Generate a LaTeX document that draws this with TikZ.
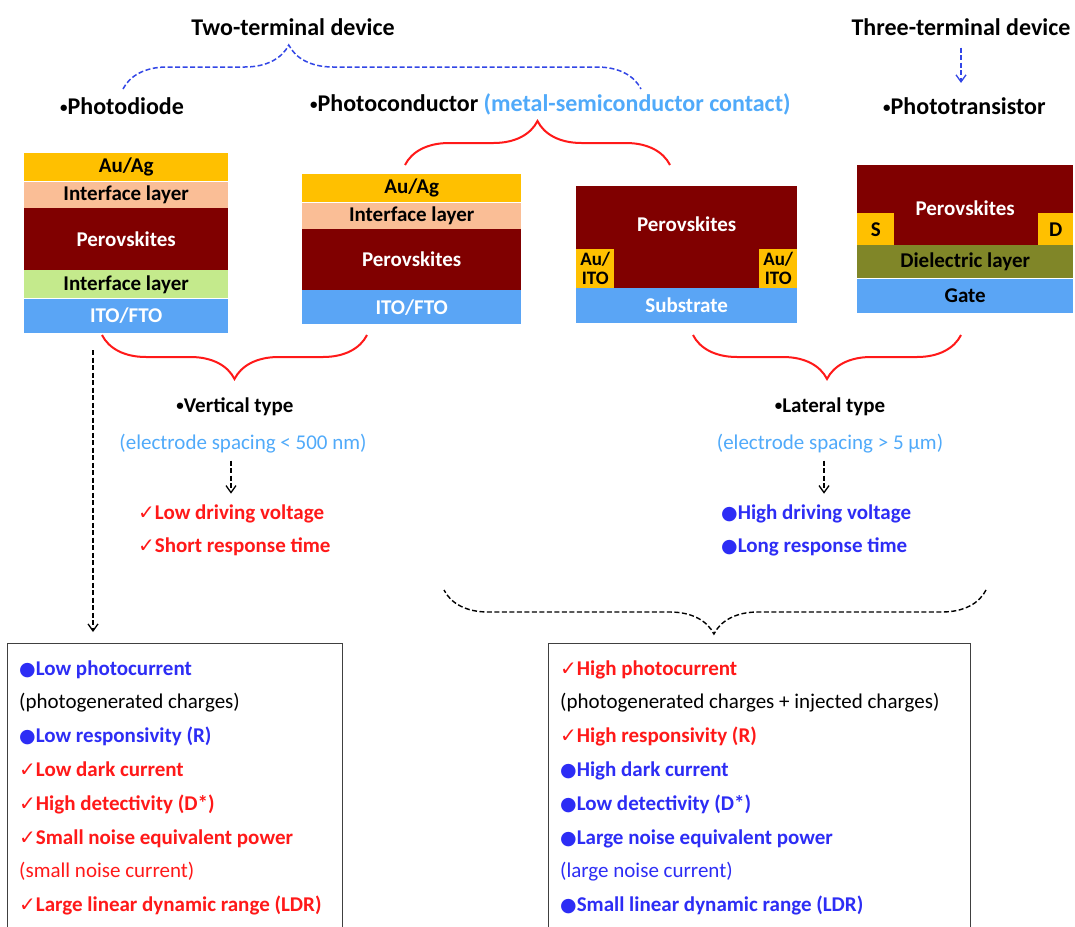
\documentclass[tikz,border=0pt]{standalone}
\usepackage{fontspec}
\usepackage{xcolor}
\usepackage{tikz}
\usetikzlibrary{positioning, arrows.meta, decorations.pathreplacing}
\setmainfont{Carlito}
\newfontfamily\symfont{DejaVu Sans}

\definecolor{gold}{RGB}{255,192,0}
\definecolor{peach}{RGB}{250,190,150}
\definecolor{perov}{RGB}{128,0,0}
\definecolor{lgreen}{RGB}{196,234,140}
\definecolor{ito}{RGB}{90,165,245}
\definecolor{olive}{RGB}{128,134,40}
\definecolor{tblue}{RGB}{45,45,245}
\definecolor{tred}{RGB}{255,25,25}
\definecolor{sky}{RGB}{80,170,250}
\definecolor{dblue}{RGB}{50,70,230}

\newcommand{\bigf}{\fontsize{24}{28}\selectfont\bfseries}
\newcommand{\midf}{\fontsize{21}{25}\selectfont\bfseries}
\newcommand{\regf}{\fontsize{21}{25}\selectfont\mdseries}
\newcommand{\contf}{\fontsize{19}{19}\selectfont\bfseries}
\newcommand{\chk}{{\symfont\mdseries\fontsize{20}{20}\selectfont ✓}}
\newcommand{\bul}{{\symfont\fontsize{19}{19}\selectfont ●}}
\newcommand{\sbul}{\raisebox{2pt}{\fontsize{15}{15}\selectfont •}}

\begin{document}
\begin{tikzpicture}[
  x=1pt, y=-1pt,
  every node/.style={inner sep=0pt},
  layer/.style={rectangle, anchor=north west, font=\midf, text=black},
  box/.style={rectangle, draw=black!75, line width=1.2pt, anchor=north west},
  darr/.style={dash pattern=on 5pt off 2.5pt, line width=1.3pt,
               -{Straight Barb[length=7pt, width=10pt]}},
  bracex/.style={decorate, decoration={brace, amplitude=44pt, aspect=#1}},
  bracex/.default=0.5
]
  \fill[white] (0,0) rectangle (1075,926);
  \useasboundingbox (0,0) rectangle (1075,926);

  % headings
  \node[font=\bigf] (two) at (293,27) {Two-terminal device};
  \node[font=\bigf] (three) at (961,27) {Three-terminal device};
  \node[font=\bigf, anchor=base west] (pdiode) at (60,114) {\sbul Photodiode};
  \node[font=\bigf, anchor=base west] (pcond) at (310,111) {\sbul Photoconductor};
  \node[font=\bigf, text=sky, anchor=base west] (msc)
    at ([xshift=5pt]pcond.base east) {(metal-semiconductor contact)};
  \node[font=\bigf, anchor=base west] (ptran) at (883,114) {\sbul Phototransistor};

  % photodiode stack
  \node[layer, fill=gold, minimum width=204pt, minimum height=28pt]
    (pdau) at (24,153) {Au/Ag};
  \node[layer, fill=peach, minimum width=204pt, minimum height=26pt,
    below=0pt of pdau] (pdif1) {Interface layer};
  \node[layer, fill=perov, text=white, minimum width=204pt, minimum height=62pt,
    below=0pt of pdif1] (pdpv) {Perovskites};
  \node[layer, fill=lgreen, minimum width=204pt, minimum height=28pt,
    below=0pt of pdpv] (pdif2) {Interface layer};
  \node[layer, fill=ito, text=white, minimum width=204pt, minimum height=34pt,
    below=0pt of pdif2] (pdito) {ITO/FTO};

  % vertical photoconductor stack
  \node[layer, fill=gold, minimum width=219pt, minimum height=28pt]
    (pcau) at (302,174) {Au/Ag};
  \node[layer, fill=peach, minimum width=219pt, minimum height=26pt,
    below=0pt of pcau] (pcif) {Interface layer};
  \node[layer, fill=perov, text=white, minimum width=219pt, minimum height=61pt,
    below=0pt of pcif] (pcpv) {Perovskites};
  \node[layer, fill=ito, text=white, minimum width=219pt, minimum height=34pt,
    below=0pt of pcpv] (pcito) {ITO/FTO};

  % lateral photoconductor
  \node[layer, fill=perov, minimum width=221pt, minimum height=102pt]
    (lapv) at (576,186) {};
  \node[font=\midf, text=white] (lapvt) at ([yshift=-38pt]lapv.north) {Perovskites};
  \node[layer, fill=gold, font=\contf, align=center, minimum width=38pt,
    minimum height=39pt] (lac1) at (576,249) {Au/\\ITO};
  \node[layer, fill=gold, font=\contf, align=center, minimum width=38pt,
    minimum height=39pt] (lac2) at (759,249) {Au/\\ITO};
  \node[layer, fill=ito, text=white, minimum width=221pt, minimum height=35pt]
    (lasub) at (576,288) {Substrate};

  % phototransistor
  \node[layer, fill=perov, minimum width=216pt, minimum height=80pt]
    (ptpv) at (857,165) {};
  \node[font=\midf, text=white] (ptpvt) at ([yshift=-43pt]ptpv.north) {Perovskites};
  \node[layer, fill=gold, minimum width=37pt, minimum height=32pt]
    (pts) at (857,213) {S};
  \node[layer, fill=gold, minimum width=35pt, minimum height=32pt]
    (ptd) at (1038,213) {D};
  \node[layer, fill=olive, minimum width=216pt, minimum height=33pt]
    (ptdi) at (857,245) {Dielectric layer};
  \node[layer, fill=ito, minimum width=216pt, minimum height=34pt,
    below=0pt of ptdi] (ptg) {Gate};

  % braces
  \coordinate (twl) at (123,89);
  \coordinate (twr) at (641,89);
  \draw[dblue, line width=1.5pt, dash pattern=on 5pt off 2.5pt, bracex=0.32]
    (twl) -- (twr);
  \coordinate (pcl) at (405,165);
  \coordinate (pcr) at (670,165);
  \draw[tred, line width=2pt, bracex] (pcl) -- (pcr);
  \coordinate (vtl) at (102,335);
  \coordinate (vtr) at (367,335);
  \draw[tred, line width=2pt, bracex] (vtr) -- (vtl);
  \coordinate (ltl) at (693,335);
  \coordinate (ltr) at (961,335);
  \draw[tred, line width=2pt, bracex] (ltr) -- (ltl);
  \coordinate (bbl) at (444,590);
  \coordinate (bbr) at (986,590);
  \draw[line width=1.4pt, dash pattern=on 5pt off 2.5pt, bracex=0.502] (bbr) -- (bbl);

  % vertical type
  \node[font=\midf] (vtype) at (235,407) {\sbul Vertical type};
  \node[font=\regf, text=sky] (vsp) at (243,444) {(electrode spacing < 500 nm)};
  \node[font=\midf, text=tred, anchor=base west] (vok1) at (138,519)
    {\chk Low driving voltage};
  \node[font=\midf, text=tred, anchor=base west] (vok2) at (138,552)
    {\chk Short response time};

  % lateral type
  \node[font=\midf] (ltype) at (830,407) {\sbul Lateral type};
  \node[font=\regf, text=sky] (lsp) at (830,444) {(electrode spacing > 5 µm)};
  \node[font=\midf, text=tblue, anchor=base west] (lbad1) at (721,519)
    {\bul High driving voltage};
  \node[font=\midf, text=tblue, anchor=base west] (lbad2) at (721,552)
    {\bul Long response time};

  % summary boxes
  \node[box, minimum width=335pt, minimum height=320pt] (lbox) at (7,643) {};
  \node[box, minimum width=422pt, minimum height=320pt] (rbox) at (548,643) {};
  \foreach \k/\col/\txt in {0/tblue/{\bul Low photocurrent},
      1/black/{\regf(photogenerated charges)},
      2/tblue/{\bul Low responsivity (R)},
      3/tred/{\chk Low dark current},
      4/tred/{\chk High detectivity (D*)},
      5/tred/{\chk Small noise equivalent power},
      6/tred/{\regf(small noise current)},
      7/tred/{\chk Large linear dynamic range (LDR)}}{
    \node[font=\midf, text=\col, anchor=base west] (ll\k)
      at (19,{675+33.8*\k}) {\txt};
  }
  \foreach \k/\col/\txt in {0/tred/{\chk High photocurrent},
      1/black/{\regf(photogenerated charges + injected charges)},
      2/tred/{\chk High responsivity (R)},
      3/tblue/{\bul High dark current},
      4/tblue/{\bul Low detectivity (D*)},
      5/tblue/{\bul Large noise equivalent power},
      6/tblue/{\regf(large noise current)},
      7/tblue/{\bul Small linear dynamic range (LDR)}}{
    \node[font=\midf, text=\col, anchor=base west] (rl\k)
      at (560,{675+33.8*\k}) {\txt};
  }

  % arrows
  \draw[darr, dblue, shorten <=12pt, shorten >=14pt] (three.south) -- (three.south |- ptran.north);
  \draw[darr] ([xshift=-12pt,yshift=-7pt]vsp.south) -- ++(0,33);
  \draw[darr] ([xshift=-6pt,yshift=-7pt]lsp.south) -- ++(0,33);
  \coordinate (pdtap) at (93,350);
  \draw[darr, shorten >=11pt] (pdtap) -- (pdtap |- lbox.north);
\end{tikzpicture}
\end{document}
